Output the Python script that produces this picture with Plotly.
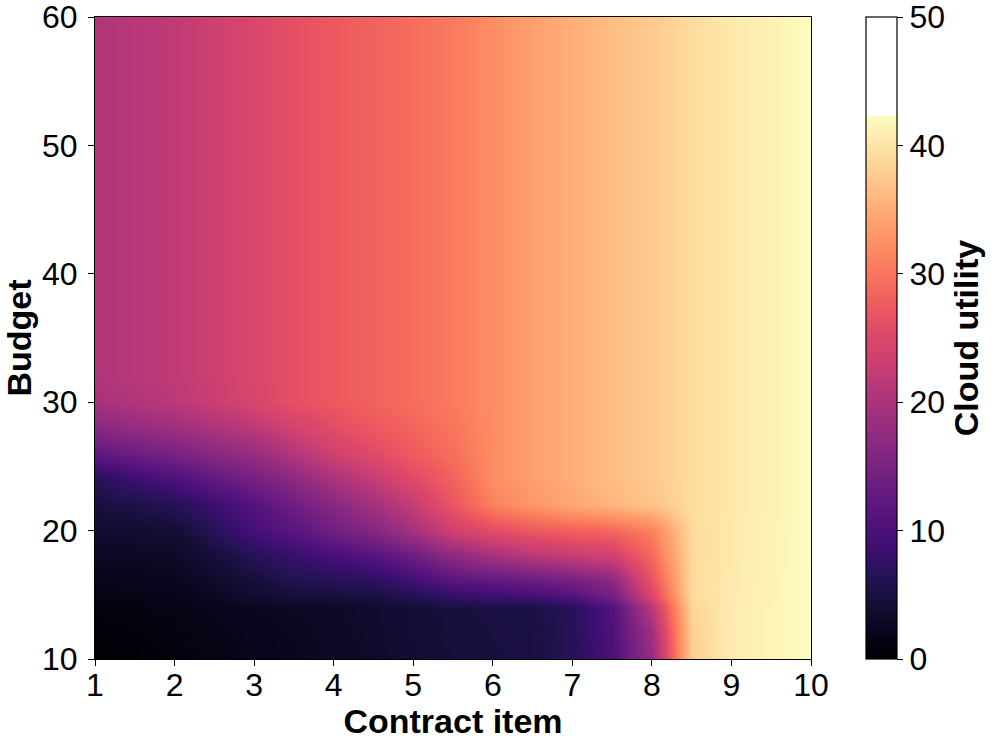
import plotly.graph_objects as go

# contract item (x) and budget (y) grid
contract_items = [1, 1.5, 2, 2.5, 3, 3.5, 4, 4.5, 5, 5.5, 6, 6.5, 7, 7.5, 8, 8.5, 9, 9.5, 10]
budgets = [10, 12, 14, 15, 16, 18, 20, 22, 24, 26, 28, 30, 32, 60]

# cloud utility, one list per budget row
u_b10 = [0.0, 0.4, 0.9, 1.4, 1.9, 2.4, 2.9, 3.3, 4.0, 4.6, 4.8, 5.0, 6.5, 10.0, 18.0, 38.0, 40.6, 41.5, 42.3]
u_b12 = [0.4, 0.7, 1.1, 1.6, 2.1, 2.5, 3.0, 3.4, 4.1, 4.7, 4.9, 5.0, 6.6, 10.2, 19.0, 38.2, 40.6, 41.5, 42.3]
u_b14 = [0.9, 1.1, 1.4, 2.0, 2.5, 2.8, 3.1, 3.5, 4.2, 4.8, 5.0, 5.1, 6.8, 10.5, 21.5, 38.5, 40.6, 41.5, 42.3]
u_b15 = [1.4, 1.6, 1.8, 2.8, 3.8, 4.6, 4.8, 5.2, 6.2, 8.0, 8.8, 9.6, 11.0, 14.5, 25.0, 39.0, 40.5, 41.4, 42.3]
u_b16 = [2.0, 2.1, 2.3, 3.3, 4.4, 5.8, 6.2, 6.8, 8.8, 11.2, 12.0, 12.8, 14.0, 16.5, 26.5, 39.0, 40.5, 41.4, 42.3]
u_b18 = [2.7, 2.8, 3.0, 4.5, 6.5, 8.2, 9.6, 11.0, 13.5, 17.0, 19.5, 21.2, 22.5, 23.5, 29.0, 39.0, 40.4, 41.3, 42.3]
u_b20 = [3.7, 3.9, 4.1, 6.5, 9.3, 11.5, 14.0, 16.0, 19.5, 23.5, 25.8, 27.2, 28.0, 28.6, 31.0, 39.0, 40.4, 41.3, 42.3]
u_b22 = [4.8, 5.5, 6.3, 8.5, 11.0, 13.8, 16.5, 19.3, 22.5, 27.0, 31.0, 33.0, 34.5, 35.8, 37.0, 39.2, 40.3, 41.2, 42.3]
u_b24 = [6.5, 8.5, 10.2, 12.5, 14.4, 17.0, 20.0, 22.5, 25.5, 28.3, 32.2, 33.9, 35.2, 36.5, 37.6, 39.2, 40.3, 41.2, 42.3]
u_b26 = [12.0, 13.5, 14.8, 16.5, 18.0, 20.8, 23.5, 25.5, 27.5, 29.5, 32.2, 33.9, 35.2, 36.5, 37.6, 39.2, 40.3, 41.2, 42.3]
u_b28 = [16.5, 17.8, 18.8, 20.2, 21.6, 23.8, 25.8, 27.2, 28.6, 30.0, 32.2, 33.9, 35.2, 36.5, 37.6, 39.2, 40.3, 41.2, 42.3]
u_b30 = [19.5, 20.5, 21.5, 22.8, 24.5, 26.3, 27.3, 28.3, 29.4, 30.5, 32.2, 33.9, 35.2, 36.5, 37.6, 39.2, 40.3, 41.2, 42.3]
u_b32 = [20.5, 21.3, 22.0, 23.2, 24.8, 26.3, 27.3, 28.3, 29.4, 30.5, 32.2, 33.9, 35.2, 36.5, 37.6, 39.2, 40.3, 41.2, 42.3]
u_b60 = [20.5, 21.3, 22.0, 23.2, 24.8, 26.3, 27.3, 28.3, 29.4, 30.5, 32.2, 33.9, 35.2, 36.5, 37.6, 39.2, 40.3, 41.2, 42.3]

utility = [u_b10, u_b12, u_b14, u_b15, u_b16, u_b18, u_b20, u_b22,
           u_b24, u_b26, u_b28, u_b30, u_b32, u_b60]

cbar_ticks = [0, 10, 20, 30, 40, 50]

# magma, stretched over 0..data max, white above it (colorbar runs to 50)
magma = ["#000004", "#07061c", "#140e36", "#251255", "#3b0f70", "#51127c",
         "#641a80", "#782281", "#8c2981", "#a1307e", "#b73779", "#cd4071",
         "#de4968", "#ed5a5f", "#f7705c", "#fc8961", "#fe9f6d", "#feb77e",
         "#fecf92", "#fde7a9", "#fcfdbf"]
zmax = 50
top = max(max(r) for r in utility) / zmax
colorscale = [[i / (len(magma) - 1) * top, c] for i, c in enumerate(magma)]
colorscale += [[top + 0.0005, "#ffffff"], [1, "#ffffff"]]

font = "Liberation Sans, Arial, Helvetica, sans-serif"

fig = go.Figure(go.Heatmap(
    x=contract_items,
    y=budgets,
    z=utility,
    zmin=0,
    zmax=zmax,
    zsmooth="best",
    colorscale=colorscale,
    colorbar=dict(
        x=1.077, xanchor="left", xpad=0, ypad=0,
        y=0.5, yanchor="middle", len=1, lenmode="fraction",
        thickness=31, outlinecolor="black", outlinewidth=1.2,
        tickvals=cbar_ticks, ticks="outside", ticklen=6, tickwidth=1.2,
        tickcolor="black", ticklabeloverflow="allow",
        tickfont=dict(family=font, size=32, color="black"),
        title=dict(text="<b>Cloud utility</b>", side="right",
                   font=dict(family=font, size=34, color="black")),
    ),
))

axis_style = dict(
    showline=True, mirror=True, linecolor="black", linewidth=1.2,
    ticks="outside", ticklen=6, tickwidth=1.2, tickcolor="black",
    showgrid=False, zeroline=False, automargin=False,
    ticklabeloverflow="allow",
    tickfont=dict(family=font, size=32, color="black"),
)

fig.update_xaxes(range=[1, 10], dtick=1, ticklabelstandoff=-9,
                 title=dict(text="<b>Contract item</b>", standoff=2,
                            font=dict(family=font, size=34, color="black")),
                 **axis_style)
fig.update_yaxes(range=[10, 60], dtick=10, ticklabelstandoff=4,
                 title=dict(text="<b>Budget</b>", standoff=8,
                            font=dict(family=font, size=34, color="black")),
                 **axis_style)

fig.update_layout(
    width=996, height=747,
    margin=dict(l=95, r=185, t=17, b=88, autoexpand=False),
    plot_bgcolor="white", paper_bgcolor="white",
    font=dict(family=font, color="black"),
)

# drop the default body margin so the figure sits at the page corner
fig.write_html("out.html", config={"displayModeBar": False},
               post_script="document.body.style.margin = '0';")
